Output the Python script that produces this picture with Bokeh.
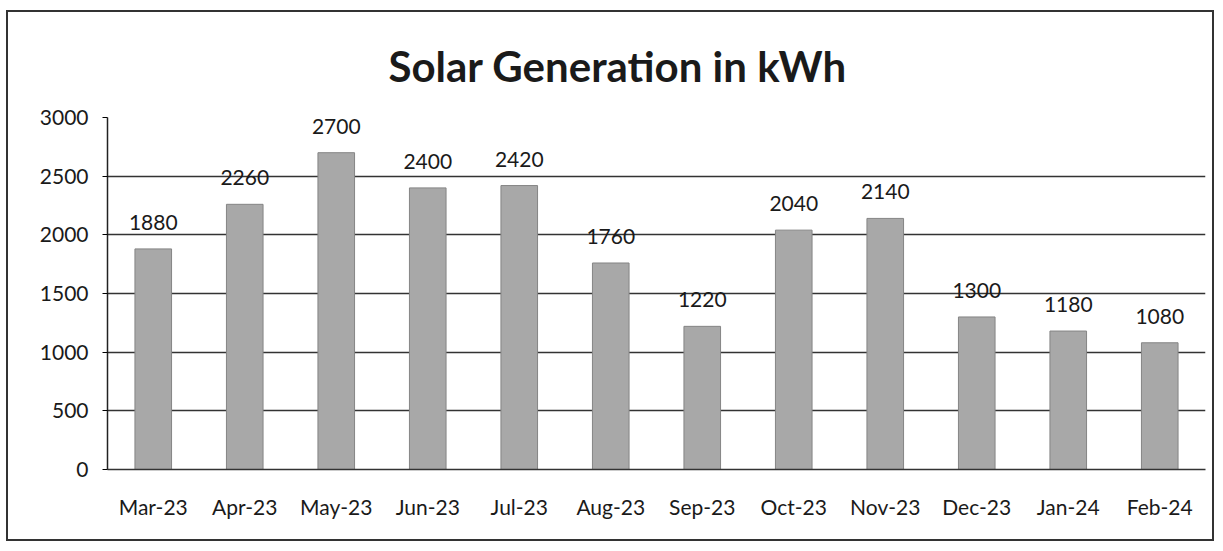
from bokeh.plotting import figure
from bokeh.models import ColumnDataSource, LabelSet, Title
from bokeh.core.properties import value
from bokeh.embed import file_html
from bokeh.resources import INLINE

months = ["Mar-23", "Apr-23", "May-23", "Jun-23", "Jul-23", "Aug-23",
          "Sep-23", "Oct-23", "Nov-23", "Dec-23", "Jan-24", "Feb-24"]
generation = [1880, 2260, 2700, 2400, 2420, 1760, 1220, 2040, 2140, 1300, 1180, 1080]
y_ticks = [0, 500, 1000, 1500, 2000, 2500, 3000]

FONT = "Lato"
src = ColumnDataSource(dict(m=months, v=generation, lbl=[str(v) for v in generation]))

p = figure(x_range=months, y_range=(0, 3000), width=1208, height=531,
           output_backend="svg", toolbar_location=None,
           min_border_left=99, min_border_right=11, min_border_top=104, min_border_bottom=74,
           styles={"border": "2px solid #333", "margin-left": "6px", "margin-top": "10px"})
p.title = None
p.add_layout(Title(text="Solar Generation in kWh", align="left", offset=281,
                   text_font=FONT, text_font_size="42px", text_font_style="bold",
                   text_color="#1a1a1a", standoff=53), "above")
p.x_range.range_padding = 0

p.vbar(x="m", top="v", width=0.4, source=src, fill_color="#a8a8a8",
       line_color="#858585", line_width=1)

p.add_layout(LabelSet(x="m", y="v", text="lbl", source=src, text_align="center",
                      text_baseline="bottom", y_offset=19, text_font_size="21px",
                      text_font=value(FONT), text_color="#1a1a1a"))

p.outline_line_color = None
p.background_fill_color = "white"
p.border_fill_color = "white"
p.xgrid.grid_line_color = None
p.ygrid.grid_line_color = "#333333"
p.ygrid.grid_line_width = 1.6
p.yaxis.ticker = y_ticks
p.yaxis.axis_line_color = "#222"
p.yaxis.axis_line_width = 1.5
p.yaxis.major_tick_out = 5
p.yaxis.major_tick_in = 0
p.yaxis.minor_tick_line_color = None
p.yaxis.major_label_text_font = FONT
p.yaxis.major_label_text_font_size = "21px"
p.yaxis.major_label_text_color = "#1a1a1a"
p.yaxis.major_label_standoff = 14
p.xaxis.axis_line_color = "#333"
p.xaxis.axis_line_width = 1.6
p.xaxis.major_tick_line_color = None
p.xaxis.major_label_text_font = FONT
p.xaxis.major_label_text_font_size = "21px"
p.xaxis.major_label_text_color = "#1a1a1a"
p.xaxis.major_label_standoff = 18

open("out.html", "w").write(file_html(p, INLINE))
